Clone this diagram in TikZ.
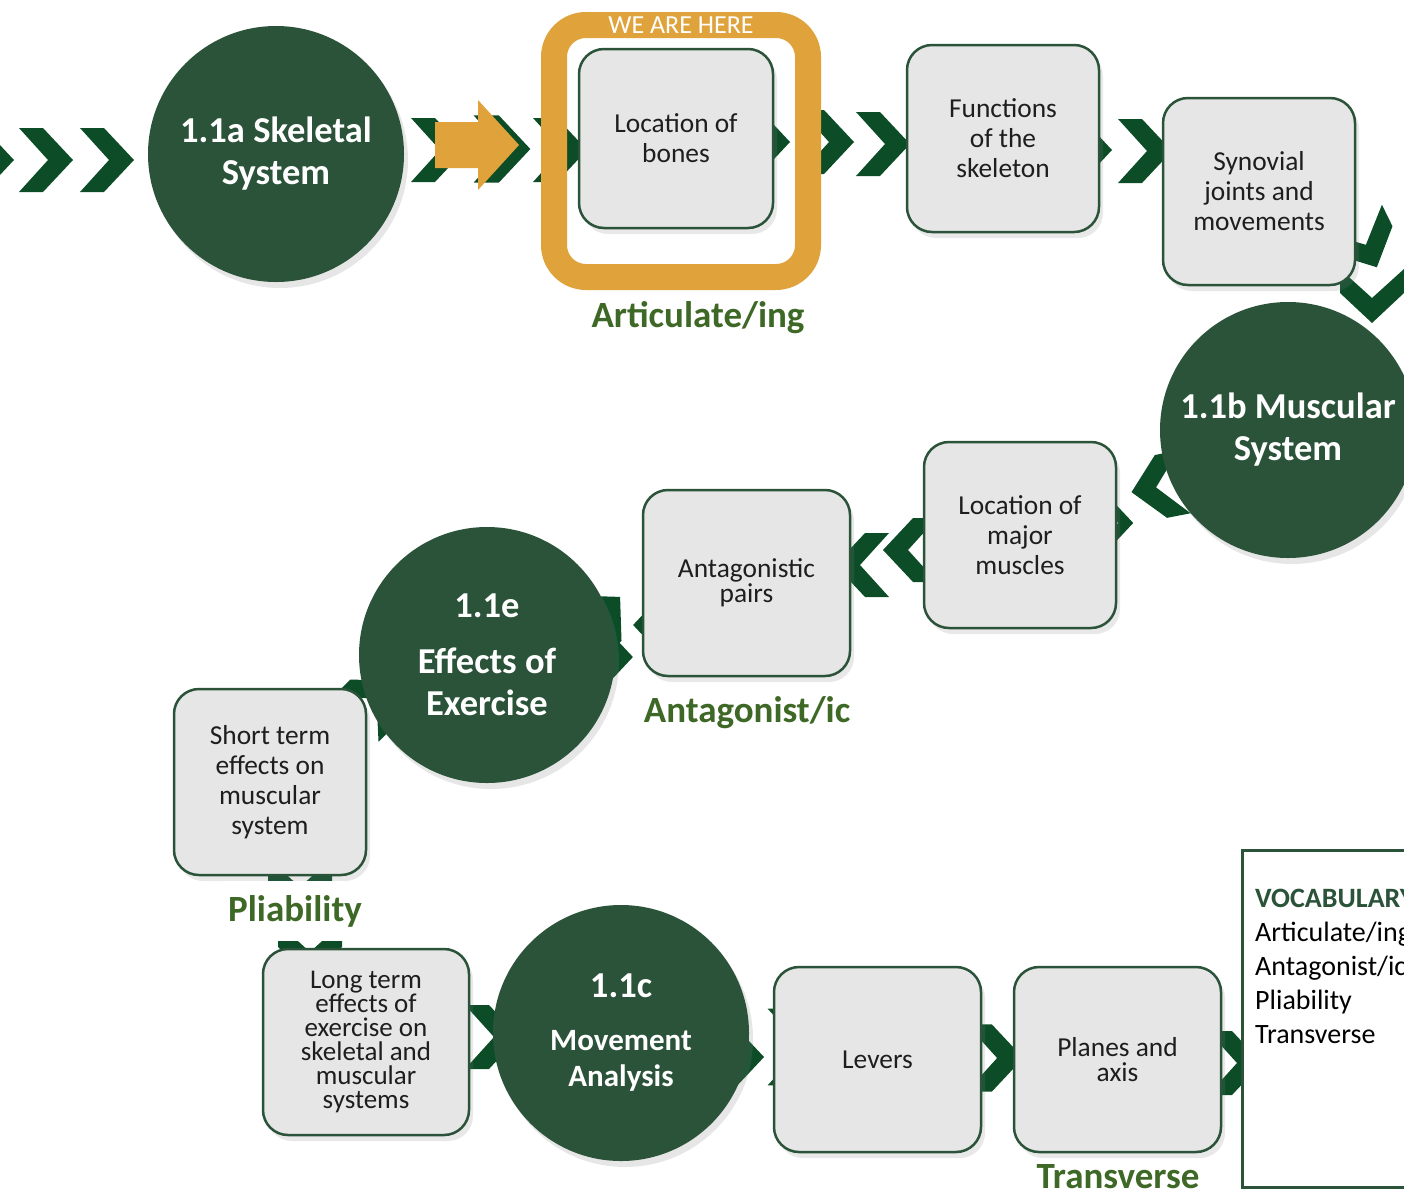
\documentclass[tikz,border=0pt]{standalone}
\usepackage{fontspec}
\setmainfont{Carlito}
\usepackage{xcolor}
\usepackage{tikz}
\usetikzlibrary{positioning, shadows}
\definecolor{hubgreen}{RGB}{43, 83, 57}
\definecolor{chevgreen}{RGB}{12, 77, 40}
\definecolor{boxgray}{RGB}{230, 230, 230}
\definecolor{wordgreen}{RGB}{62, 104, 38}
\definecolor{hereorange}{RGB}{224, 162, 58}
\definecolor{inkblack}{RGB}{30, 30, 30}

\tikzset{
  chev/.pic={
    \fill[chevgreen] (-27,-32) -- (-3,-32) -- (27,0) -- (-3,32) -- (-27,32) -- (2,0) -- cycle;
  }
}

\begin{document}
\begin{tikzpicture}[x=1pt, y=-1pt,
  hub/.style={circle, fill=hubgreen, text=white, minimum size=256pt, inner sep=0pt,
    align=center, font=\fontsize{36.5}{42}\selectfont\bfseries,
    drop shadow={opacity=.2, shadow xshift=4pt, shadow yshift=-6pt}},
  topic/.style={rectangle, rounded corners=25pt, draw=hubgreen, line width=2.5pt,
    fill=boxgray, text=inkblack, align=center, inner sep=0pt,
    font=\fontsize{27.4}{30}\selectfont,
    drop shadow={opacity=.18, shadow xshift=4pt, shadow yshift=-6pt}},
  keyword/.style={fill=white, text=wordgreen, inner sep=3pt,
    font=\fontsize{37}{40}\selectfont\bfseries}]

  \useasboundingbox (0,0) rectangle (1404,1192);

  % --- chevrons along the path ---
  \pic at (-13,160) {chev};
  \pic at (46,160) {chev};
  \pic at (107,160) {chev};
  \pic at (438,150) {chev};
  \pic[scale=1.05] at (502,149) {chev};
  \pic at (560,150) {chev};
  \pic at (763,142) {chev};
  \pic at (827,142) {chev};
  \pic at (883,144) {chev};
  \pic at (1085,150) {chev};
  \pic at (1145,151) {chev};
  \pic[rotate=-64] at (1365,243) {chev};
  \pic[rotate=-90] at (1372,296) {chev};
  \pic[rotate=191] at (1158,487) {chev};
  \pic[scale=.6] at (1117,523) {chev};
  \pic[rotate=180] at (910,550) {chev};
  \pic[rotate=180] at (862,565) {chev};
  \pic[rotate=180, scale=.7] at (652,625) {chev};
  \pic[scale=.7] at (614,657) {chev};
  \pic[rotate=45] at (601,616) {chev};
  \pic[rotate=45] at (375,700) {chev};
  \pic[rotate=-90] at (300,885) {chev};
  \pic[rotate=-90] at (310,950) {chev};
  \pic at (492,1037) {chev};
  \pic at (737,1057) {chev};
  \pic[scale=1.2] at (800,1047) {chev};
  \pic[scale=1.05] at (995,1058) {chev};
  \pic at (1235,1063) {chev};

  % --- we are here ---
  \fill[hereorange] (435,122) -- (478,122) -- (478,100) -- (519,145)
    -- (478,190) -- (478,168) -- (435,168) -- cycle;
  \node[draw=hereorange, line width=26pt, rounded corners=32pt,
    minimum width=254pt, minimum height=252pt] (here) at (681,151) {};
  \node[text=white, font=\fontsize{26}{28}\selectfont] (heretag) at (681,25) {WE ARE HERE};

  % --- topic hubs ---
  \node[hub] (skel) at (276,154) {1.1a Skeletal\\System};
  \node[hub] (musc) at (1288,430) {1.1b Muscular\\System};
  \node[hub] (effx) at (487,655) {1.1e\\[14pt]Effects of\\Exercise};
  \node[hub, font=\fontsize{31}{36}\selectfont\bfseries] (movan) at (621,1033)
    {{\fontsize{36.5}{36}\selectfont 1.1c}\\[17pt]Movement\\Analysis};

  % --- lesson boxes ---
  \node[topic, minimum width=194pt, minimum height=179pt] (locb) at (676,138.5) {Location of\\bones};
  \node[topic, minimum width=192pt, minimum height=187pt] (func) at (1003,138.5) {Functions\\of the\\skeleton};
  \node[topic, minimum width=192pt, minimum height=187pt] (syn) at (1259,191.5) {Synovial\\joints and\\movements};
  \node[topic, minimum width=192pt, minimum height=186pt] (lmm) at (1020,535) {Location of\\major\\muscles};
  \node[topic, minimum width=207pt, minimum height=186pt,
    font=\fontsize{27.4}{25}\selectfont] (ant) at (746.5,583) {Antagonistic\\pairs};
  \node[topic, minimum width=192pt, minimum height=186pt] (stm) at (270,782)
    {Short term\\effects on\\muscular\\system};
  \node[topic, minimum width=206pt, minimum height=186pt,
    font=\fontsize{27}{24}\selectfont] (ltm) at (366,1042)
    {Long term\\effects of\\exercise on\\skeletal and\\muscular\\systems};
  \node[topic, minimum width=207pt, minimum height=185pt] (lev) at (877.5,1059.5) {Levers};
  \node[topic, minimum width=207pt, minimum height=185pt,
    font=\fontsize{27.4}{25}\selectfont] (pla) at (1117.5,1059.5) {Planes and\\axis};

  % --- key words ---
  \node[keyword] (artic) at (698,318) {Articulate/ing};
  \node[keyword] (antag) at (747,713) {Antagonist/ic};
  \node[keyword, minimum height=60pt] (pliab) at (295,911) {Pliability};
  \node[keyword] (trans) at (1118,1177) {Transverse};

  % --- vocabulary panel ---
  \node[draw=hubgreen, line width=2.5pt, fill=white, anchor=north west,
    minimum width=200pt, minimum height=337pt] (vocab) at (1241,849) {};
  \node[anchor=north west, inner sep=0pt, align=left, text=black,
    font=\fontsize{28}{34}\selectfont] (vocabtext) at (1255,889)
    {\textcolor{hubgreen}{\bfseries VOCABULARY}\\Articulate/ing\\Antagonist/ic\\Pliability\\Transverse};

\end{tikzpicture}
\end{document}
